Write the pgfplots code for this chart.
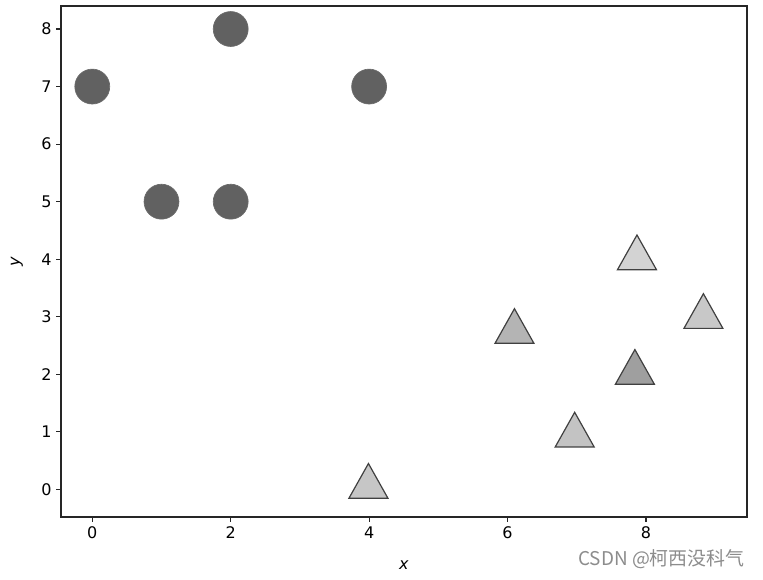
\documentclass[border=0pt]{standalone}
\usepackage{fontspec}
\setmainfont{DejaVu Sans}
\newfontfamily\cjk{Noto Sans CJK SC}
\usepackage{pgfplots}
\pgfplotsset{compat=1.18}
\pgfdeclareplotmark{mtri}{%
  \pgfpathmoveto{\pgfqpoint{0pt}{13pt}}%
  \pgfpathlineto{\pgfqpoint{-14.6pt}{-13pt}}%
  \pgfpathlineto{\pgfqpoint{14.6pt}{-13pt}}%
  \pgfpathclose
  \pgfusepathqfillstroke}
\begin{document}
\begin{tikzpicture}
\useasboundingbox (-45.75pt,-47.25pt) rectangle (526.5pt,387.75pt);
\begin{axis}[
  at={(0,0)}, anchor=south west,
  scale only axis, width=514.5pt, height=383.25pt,
  xmin=-0.452, xmax=9.46, ymin=-0.478, ymax=8.40,
  xtick={0,2,4,6,8}, ytick={0,1,2,3,4,5,6,7,8},
  tick align=outside, tick pos=left,
  major tick length=3.6pt,
  axis line style={line width=0.8pt, black!85},
  every tick/.style={black!85, line width=0.8pt},
  /pgf/number format/assume math mode=true,
  tick label style={font=\fontsize{12}{14}\selectfont},
  xlabel={\textit{x}}, ylabel={\textit{y}},
  label style={font=\fontsize{12}{14}\selectfont},
  xlabel style={at={([yshift=-36pt]axis description cs:0.5,0)}, anchor=center},
  ylabel style={at={([xshift=-33pt]axis description cs:0,0.5)}, anchor=center},
  clip=false,
  colormap={grays}{gray(0cm)=(0); gray(1cm)=(1)},
  point meta min=0, point meta max=1,
]
\addplot[only marks, mark=*, mark size=13.1pt,
  mark options={fill=black!62, draw=black!58, line width=0.5pt}]
  coordinates {(0,7) (1,5) (2,5) (2,8) (4,7)};
\addplot[scatter, only marks, mark=mtri, point meta=explicit,
  scatter/use mapped color={draw=black!75, fill=mapped color},
  mark options={line width=0.9pt}]
  coordinates {
    (7.87,4.12) [0.82]
    (6.10,2.84) [0.70]
    (8.83,3.10) [0.78]
    (7.84,2.13) [0.62]
    (6.97,1.04) [0.76]
    (3.99,0.15) [0.77]
  };
\end{axis}
\node[anchor=base west, inner sep=0pt, text=black!45, font=\cjk\fontsize{14.2}{16}\selectfont]
  at (387.75pt,-36.75pt) {CSDN @柯西没科气};
\end{tikzpicture}
\end{document}
